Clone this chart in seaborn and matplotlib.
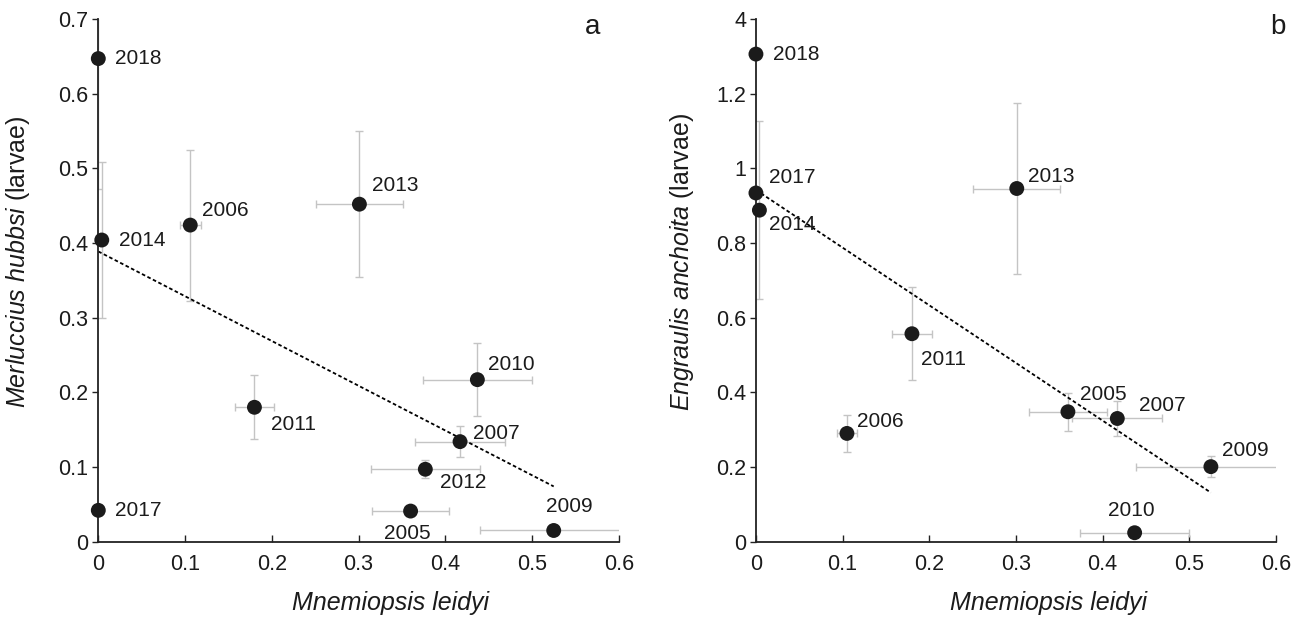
import numpy as np
import pandas as pd
import matplotlib
matplotlib.use("Agg")
import matplotlib.pyplot as plt
import seaborn as sns

# --- data ---
# panel a: Merluccius hubbsi larvae vs Mnemiopsis leidyi
years_a = ["2018", "2014", "2006", "2013", "2010", "2011", "2007", "2012", "2017", "2005", "2009"]
mnem_a = [0.0, 0.004, 0.106, 0.301, 0.437, 0.180, 0.417, 0.377, 0.0, 0.360, 0.525]
mnem_err_a = [0.0, 0.0, 0.012, 0.050, 0.063, 0.022, 0.052, 0.063, 0.0, 0.044, 0.085]
merl_a = [0.647, 0.404, 0.424, 0.452, 0.217, 0.180, 0.134, 0.097, 0.042, 0.041, 0.015]
merl_err_a = [0.174, 0.104, 0.101, 0.098, 0.049, 0.043, 0.021, 0.012, 0.0, 0.0, 0.0]

# panel b: Engraulis anchoita larvae (broken axis: top tick "4" sits at 1.4)
years_b = ["2018", "2017", "2014", "2013", "2011", "2006", "2005", "2007", "2009", "2010"]
mnem_b = [0.0, 0.0, 0.004, 0.301, 0.180, 0.105, 0.360, 0.417, 0.525, 0.437]
mnem_err_b = [0.0, 0.0, 0.0, 0.050, 0.023, 0.012, 0.045, 0.052, 0.086, 0.063]
engr_b = [1.306, 0.934, 0.888, 0.946, 0.557, 0.290, 0.348, 0.330, 0.201, 0.024]
engr_err_b = [0.0, 0.0, 0.238, 0.228, 0.124, 0.049, 0.051, 0.047, 0.029, 0.0]

xticks = [0, 0.1, 0.2, 0.3, 0.4, 0.5, 0.6]
xtick_labels = ["0", "0.1", "0.2", "0.3", "0.4", "0.5", "0.6"]
yticks_a = [0, 0.1, 0.2, 0.3, 0.4, 0.5, 0.6, 0.7]
ytick_labels_a = ["0", "0.1", "0.2", "0.3", "0.4", "0.5", "0.6", "0.7"]
yticks_b = [0, 0.2, 0.4, 0.6, 0.8, 1.0, 1.2, 1.4]
ytick_labels_b = ["0", "0.2", "0.4", "0.6", "0.8", "1", "1.2", "4"]

# label offsets in pixels (dx, dy, ha)
offs_a = {"2018": (17, 0, "left"), "2014": (17, 0, "left"), "2006": (12, 15, "left"),
          "2013": (13, 19, "left"), "2010": (11, 15, "left"), "2011": (17, -17, "left"),
          "2007": (13, 8, "left"), "2012": (15, -13, "left"), "2017": (17, 0, "left"),
          "2005": (-3, -22, "center"), "2009": (16, 24, "center")}
offs_b = {"2018": (17, 0, "left"), "2017": (13, 15, "left"), "2014": (10, -14, "left"),
          "2013": (11, 12, "left"), "2011": (9, -26, "left"), "2006": (10, 12, "left"),
          "2005": (12, 17, "left"), "2007": (22, 13, "left"), "2009": (11, 16, "left"),
          "2010": (-3, 22, "center")}

sns.set_theme(style="ticks")
plt.rcParams["font.family"] = ["Liberation Sans", "DejaVu Sans"]
plt.rcParams["mathtext.fontset"] = "custom"
plt.rcParams["mathtext.rm"] = "Liberation Sans"
plt.rcParams["mathtext.it"] = "Liberation Sans:italic"

fig = plt.figure(figsize=(13.09, 6.19), dpi=100)
ax_a = fig.add_axes([0.0751, 0.1249, 0.3976, 0.8444])
ax_b = fig.add_axes([0.5775, 0.1249, 0.3972, 0.8444])

ink = "#1b1b1b"
err_col = "#c4c4c4"


def panel(ax, years, x, xe, y, ye, offs, yt, ytl, ylabel, letter, ylab_x):
    df = pd.DataFrame({"x": x, "y": y, "xe": xe, "ye": ye, "year": years})
    ax.errorbar(df.x, df.y, xerr=df.xe, yerr=df.ye, fmt="none", ecolor=err_col,
                elinewidth=1.0, capsize=3, capthick=1.0, zorder=1)
    sns.regplot(data=df, x="x", y="y", ax=ax, scatter=False, ci=None, truncate=True,
                line_kws=dict(color="black", lw=1.3, ls=(0, (2, 1.4)), zorder=2))
    sns.scatterplot(data=df, x="x", y="y", ax=ax, s=115, color=ink, edgecolor="none",
                    zorder=3, clip_on=False)
    for _, r in df.iterrows():
        dx, dy, ha = offs[r.year]
        ax.annotate(r.year, (r.x, r.y), xytext=(dx, dy), textcoords="offset pixels",
                    ha=ha, va="center", fontsize=15, color=ink)
    ax.set_xlim(0, 0.6)
    ax.set_ylim(yt[0], yt[-1])
    ax.set_xticks(xticks, xtick_labels)
    ax.set_yticks(yt, ytl)
    sns.despine(ax=ax)
    for s in ("left", "bottom"):
        ax.spines[s].set_color("#222222")
        ax.spines[s].set_linewidth(1.3)
    ax.tick_params(axis="y", direction="out", length=4, width=1, color="#222222",
                   labelsize=15.5, labelcolor=ink, pad=3)
    ax.tick_params(axis="x", direction="in", length=5, width=1, color="#222222",
                   labelsize=15.5, labelcolor=ink, pad=9)
    ax.set_xlabel("Mnemiopsis leidyi", fontsize=18, style="italic", color=ink)
    ax.xaxis.set_label_coords(0.562, -0.117)
    ax.xaxis.label.set_va("center")
    ax.set_ylabel(ylabel, fontsize=18, color=ink)
    ax.yaxis.set_label_coords(ylab_x, 0.535)
    ax.yaxis.label.set_va("center")
    ax.text(0.95, 0.985, letter, transform=ax.transAxes, fontsize=20, color=ink,
            ha="center", va="center")


panel(ax_a, years_a, mnem_a, mnem_err_a, merl_a, merl_err_a, offs_a, yticks_a,
      ytick_labels_a, r"$\mathit{Merluccius\ hubbsi}$ (larvae)", "a", -0.154)
panel(ax_b, years_b, mnem_b, mnem_err_b, engr_b, engr_err_b, offs_b, yticks_b,
      ytick_labels_b, r"$\mathit{Engraulis\ anchoita}$ (larvae)", "b", -0.1415)
ax_b.texts[-1].set_position((1.004, 0.985))

fig.savefig("out.png", dpi=100)
